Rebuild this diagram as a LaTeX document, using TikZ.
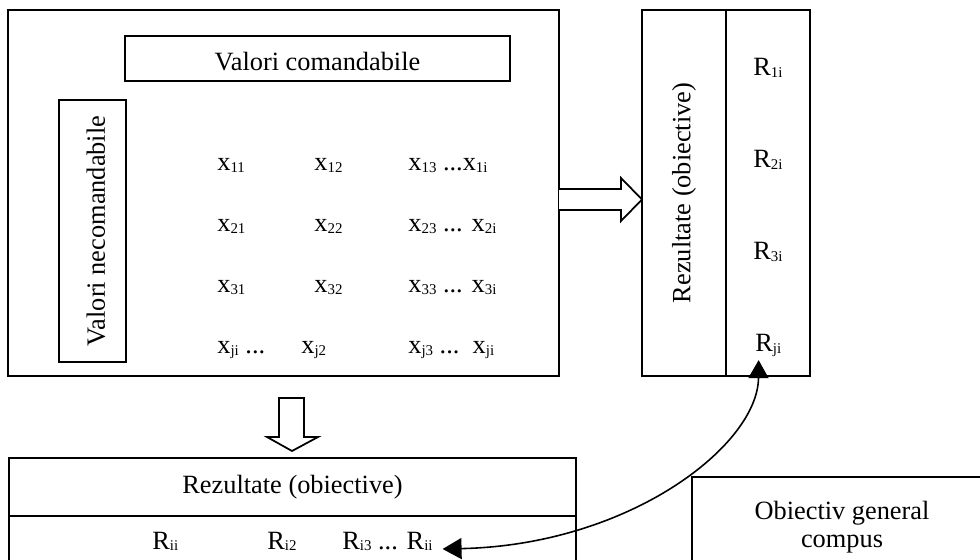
\documentclass[tikz,border=0pt]{standalone}
\usepackage{fontspec}
\setmainfont{Liberation Serif}
\usetikzlibrary{arrows.meta, positioning}
\newcommand{\sbs}[1]{\raisebox{-1.1pt}{\fontsize{8.5}{9}\selectfont #1}}

\begin{document}
\begin{tikzpicture}[x = 0.02cm, y = -0.02cm,
        every node/.style = {font = \fontsize{15}{16}\selectfont},
        box/.style = {draw, line width = 1pt, inner sep = 0pt, outer sep = 0pt},
        lowtext/.style = {text height = 14pt, text depth = 0pt},
        cell/.style = {anchor = base west, inner sep = 0pt},
        hollow/.style = {draw, line width = 1pt, fill = white, line join = miter}]

        \useasboundingbox (0, 0) rectangle (980, 560);
        \clip (0, 0) rectangle (980, 560);

        % values
        \node [box, minimum width = 11.02cm, minimum height = 7.32cm] (matrice) at (283.5, 193) {};
        \node [box, lowtext, minimum width = 7.7cm, minimum height = 0.9cm] (comand) at (317.5, 58.5) {Valori comandabile};
        \node [box, lowtext, rotate = 90, minimum width = 5.24cm, minimum height = 1.34cm] (necomand) at (92.5, 231) {Valori necomandabile};

        \node [cell] (x11) at (217, 171) {x\sbs{11}};
        \node [cell] (x12) at (314, 171) {x\sbs{12}};
        \node [cell] (x1i) at (408, 171) {x\sbs{13} ...x\sbs{1i}};
        \node [cell] (x21) at (217, 232) {x\sbs{21}};
        \node [cell] (x22) at (314, 232) {x\sbs{22}};
        \node [cell] (x2i) at (408, 232) {x\sbs{23} ... x\sbs{2i}};
        \node [cell] (x31) at (217, 293) {x\sbs{31}};
        \node [cell] (x32) at (314, 293) {x\sbs{32}};
        \node [cell] (x3i) at (408, 293) {x\sbs{33} ... x\sbs{3i}};
        \node [cell] (xj1) at (217, 354) {x\sbs{ji} ...};
        \node [cell] (xj2) at (301, 354) {x\sbs{j2}};
        \node [cell] (xji) at (408, 354) {x\sbs{j3} ...\ \ x\sbs{ji}};

        % results, vertical
        \node [box, rotate = 90, minimum width = 7.32cm, minimum height = 1.68cm] (rezv) at (684, 193) {Rezultate (obiective)};
        \node [box, minimum width = 1.68cm, minimum height = 7.32cm] (coloana) at (768, 193) {};
        \node [cell] (r1i) at (753, 76) {R\sbs{1i}};
        \node [cell] (r2i) at (753, 168) {R\sbs{2i}};
        \node [cell] (r3i) at (753, 260) {R\sbs{3i}};
        \node [cell] (rji) at (755, 352) {R\sbs{ji}};

        % results, horizontal
        \node [box, minimum width = 11.34cm, minimum height = 1.16cm] (rezh) at (292.5, 487) {Rezultate (obiective)};
        \node [box, minimum width = 11.34cm, minimum height = 1.68cm, below = 0pt of rezh] (linie) {};
        \node [cell] (ri1) at (152, 549) {R\sbs{ii}};
        \node [cell] (ri2) at (267, 549) {R\sbs{i2}};
        \node [cell] (rii) at (342, 549) {R\sbs{i3} ... R\sbs{ii}};

        \node [box, minimum width = 6cm, minimum height = 2.46cm] (obiectiv) at (842, 538.5) {};
        \node [align = center, inner sep = 0pt] (general) at (842, 527) {Obiectiv general\\compus};

        \draw [hollow] (559, 189) -- (621, 189) -- (621, 178) -- (642, 199.5) -- (621, 221) -- (621, 210) -- (559, 210);
        \draw [hollow] (279, 398) -- (279, 437) -- (267, 437) -- (292, 451) -- (318, 437) -- (304, 437) -- (304, 398) -- cycle;

        \draw [line width = 0.9pt, {Triangle[length = 0.38cm, width = 0.42cm]}-{Triangle[length = 0.36cm, width = 0.4cm]}]
        ([xshift = 5.5pt] rii.base east) .. controls (630, 545) and (758, 445) .. ([xshift = -5.5pt, yshift = -1.5pt] rji.south);
    \end{tikzpicture}
\end{document}
